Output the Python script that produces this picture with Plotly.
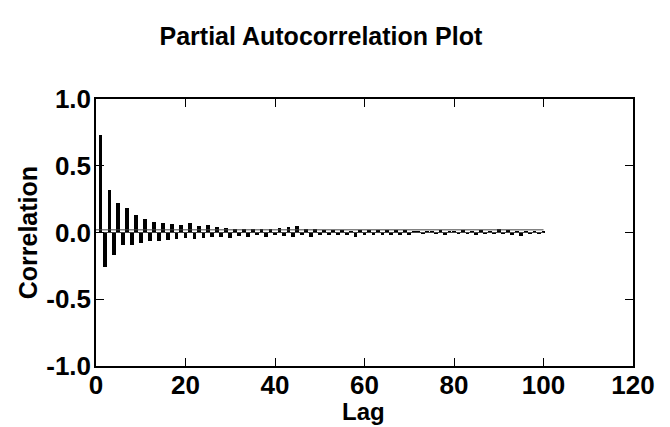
import plotly.graph_objects as go

lags = list(range(1, 101))
pacf = [0.73, -0.26, 0.32, -0.165, 0.22, -0.097, 0.18, -0.09, 0.13, -0.077,
        0.10, -0.06, 0.08, -0.06, 0.07, -0.055, 0.06, -0.045, 0.055, -0.04,
        0.07, -0.05, 0.05, -0.04, 0.055, -0.03, 0.04, -0.03, 0.035, -0.04,
        0.03, -0.025, 0.03, -0.035, 0.025, -0.02, 0.03, -0.03, 0.025, -0.02,
        0.035, -0.025, 0.04, -0.03, 0.045, -0.02, 0.03, -0.035, 0.025, -0.02,
        0.02, -0.02, 0.02, -0.015, 0.02, -0.015, 0.015, -0.03, 0.02, -0.015,
        0.02, -0.015, 0.02, -0.02, 0.02, -0.015, 0.02, -0.02, 0.02, -0.02,
        0.015, 0.01, -0.01, 0.015, 0.012, -0.01, 0.02, -0.015, 0.01, 0.015,
        -0.012, 0.018, -0.01, 0.015, -0.015, 0.02, -0.01, 0.015, -0.012, 0.03,
        -0.01, 0.02, -0.02, 0.015, -0.025, 0.012, -0.01, 0.015, -0.012, 0.01]
ref_lines = [0.02, 0.0]
ref_x = [0, 100]
x_ticks = [0, 20, 40, 60, 80, 100, 120]
y_ticks = [-1.0, -0.5, 0.0, 0.5, 1.0]

font = "Liberation Sans, Arial, sans-serif"

fig = go.Figure()
for r in ref_lines:
    fig.add_trace(go.Scatter(x=ref_x, y=[r, r], mode="lines",
                             line=dict(color="#444444", width=1), hoverinfo="skip"))
fig.add_trace(go.Bar(x=lags, y=pacf, width=0.85, marker=dict(color="black", line=dict(width=0))))

axis_common = dict(showline=True, linecolor="black", linewidth=1.5, mirror="ticks",
                   ticks="inside", ticklen=8, tickwidth=1, tickcolor="black",
                   showgrid=False, zeroline=False, automargin=False,
                   tickfont=dict(family=font, size=26, color="black", weight="bold"))

fig.update_layout(
    width=670, height=427,
    margin=dict(l=88, r=45, t=91, b=69),
    paper_bgcolor="white", plot_bgcolor="white",
    showlegend=False,
    title=dict(text="Partial Autocorrelation Plot", xref="container", x=0.467, xanchor="center",
               y=0.934, yanchor="middle",
               font=dict(family=font, size=25, color="black", weight="bold")),
    xaxis=dict(range=[0, 120], tickvals=x_ticks, ticktext=[str(v) for v in x_ticks], ticklabelstandoff=-5,
               **axis_common),
    yaxis=dict(range=[-1, 1], tickvals=y_ticks, ticktext=[f"{v:.1f}" for v in y_ticks], ticklabelstandoff=-2,
               **axis_common),
    bargap=0,
    annotations=[
        dict(text="Lag", xref="paper", yref="paper", x=0.499, y=-0.172, xanchor="center", yanchor="middle",
             showarrow=False, font=dict(family=font, size=24, color="black", weight="bold")),
        dict(text="Correlation", xref="paper", yref="paper", x=-0.127, y=0.5, xanchor="center", yanchor="middle",
             textangle=-90, showarrow=False, font=dict(family=font, size=25, color="black", weight="bold")),
    ],
)
fig.write_html("out.html")
